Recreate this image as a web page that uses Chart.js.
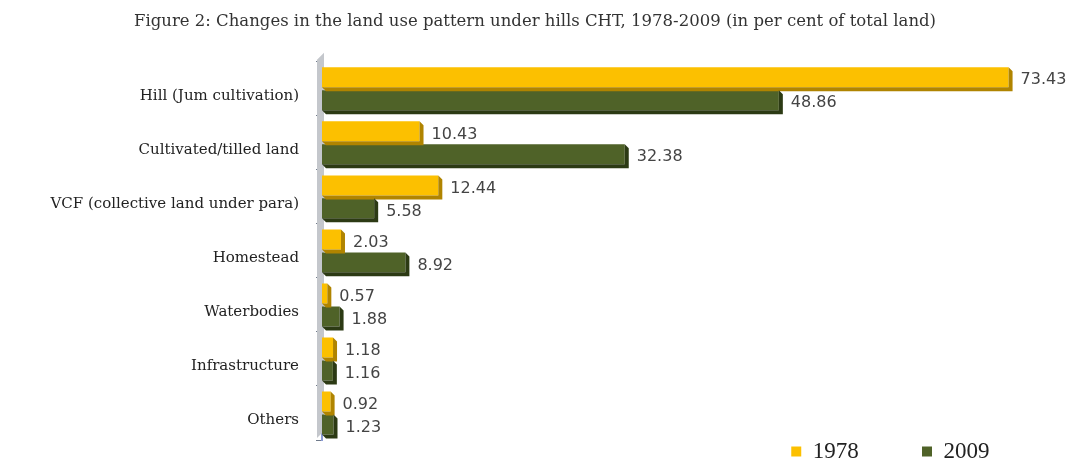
<!DOCTYPE html>
<html>
<head>
<meta charset="utf-8">
<script src="https://cdn.jsdelivr.net/npm/chart.js@4.4.1/dist/chart.umd.min.js"></script>
<style>
  html, body { margin: 0; padding: 0; background: #fff; }
</style>
</head>
<body>
<canvas id="landChart" width="1075" height="466"></canvas>
<script>
// land use categories (top to bottom)
var categories = [
    'Hill (Jum cultivation)',
    'Cultivated/tilled land',
    'VCF (collective land under para)',
    'Homestead',
    'Waterbodies',
    'Infrastructure',
    'Others'
];
var values1978 = [73.43, 10.43, 12.44, 2.03, 0.57, 1.18, 0.92];
var values2009 = [48.86, 32.38, 5.58, 8.92, 1.88, 1.16, 1.23];
var seriesNames = ['1978', '2009'];

// grey side wall behind the category axis
var sideWall = {
    id: 'sideWall',
    beforeDatasetsDraw: function (chart) {
        var a = chart.chartArea;
        var ctx = chart.ctx;
        ctx.save();
        ctx.fillStyle = '#c4c7cc';
        ctx.beginPath();
        ctx.moveTo(a.left - 5, a.top - 2);
        ctx.lineTo(a.left + 2, a.top - 9);
        ctx.lineTo(a.left + 2, a.bottom - 9);
        ctx.lineTo(a.left - 5, a.bottom - 2);
        ctx.closePath();
        ctx.fill();
        ctx.restore();
    }
};

// fake 3D depth on the bars + value labels at the end
var barExtras = {
    id: 'barExtras',
    afterDatasetsDraw: function (chart) {
        var ctx = chart.ctx;
        var d = 4;
        var sides = ['#b08400', '#2c3a14'];
        chart.data.datasets.forEach(function (ds, i) {
            var meta = chart.getDatasetMeta(i);
            meta.data.forEach(function (bar, j) {
                var top = bar.y - bar.height / 2;
                var bottom = bar.y + bar.height / 2;
                ctx.save();
                ctx.fillStyle = sides[i];
                ctx.beginPath();
                ctx.moveTo(bar.x, top);
                ctx.lineTo(bar.x + d, top + d);
                ctx.lineTo(bar.x + d, bottom + d);
                ctx.lineTo(bar.base + d, bottom + d);
                ctx.lineTo(bar.base, bottom);
                ctx.lineTo(bar.x, bottom);
                ctx.closePath();
                ctx.fill();
                ctx.fillStyle = '#444';
                ctx.font = '16px "DejaVu Sans"';
                ctx.textBaseline = 'middle';
                ctx.textAlign = 'left';
                ctx.fillText(ds.data[j].toFixed(2), bar.x + d + 8, bar.y + 3);
                ctx.restore();
            });
        });
    }
};

// let the legend overlap the bottom of the plot like the original
var legendSqueeze = {
    id: 'legendSqueeze',
    beforeLayout: function (chart) {
        var lg = chart.legend;
        if (lg && !lg._squeezed) {
            var fit = lg.fit;
            lg.fit = function () {
                fit.call(this);
                this.height = 21;
            };
            lg._squeezed = true;
        }
    }
};

var ctx = document.getElementById('landChart').getContext('2d');
var landChart = new Chart(ctx, {
    type: 'bar',
    data: {
        labels: categories,
        datasets: [
            { label: seriesNames[0], data: values1978, backgroundColor: '#fcc000' },
            { label: seriesNames[1], data: values2009, backgroundColor: '#4f6228' }
        ]
    },
    options: {
        indexAxis: 'y',
        responsive: false,
        animation: false,
        categoryPercentage: 0.85,
        barPercentage: 0.87,
        layout: { padding: { left: 0, right: 5, top: 0, bottom: 0 } },
        scales: {
            x: {
                display: false,
                min: 0,
                max: 80
            },
            y: {
                afterFit: function (scale) { scale.width = 322; },
                grid: {
                    drawOnChartArea: false,
                    tickLength: 6,
                    color: '#6f7a8a'
                },
                border: { color: '#8c9bd6', width: 2 },
                ticks: {
                    color: '#222',
                    padding: 17,
                    labelOffset: 7,
                    font: { family: '"DejaVu Serif"', size: 15 }
                }
            }
        },
        plugins: {
            title: {
                display: true,
                text: 'Figure 2: Changes in the land use pattern under hills CHT, 1978-2009 (in per cent of total land)',
                color: '#333',
                font: { family: '"DejaVu Serif"', size: 16.5, weight: 'normal' },
                padding: { top: 12, bottom: 30 }
            },
            legend: {
                position: 'bottom',
                align: 'end',
                labels: {
                    color: '#222',
                    boxWidth: 10,
                    boxHeight: 10,
                    padding: 0,
                    font: { family: '"Liberation Serif"', size: 23 },
                    generateLabels: function (chart) {
                        var items = Chart.defaults.plugins.legend.labels.generateLabels(chart);
                        items[0].text = items[0].text + '           ';
                        items[1].text = items[1].text + '              ';
                        items.forEach(function (it) { it.lineWidth = 0; });
                        return items;
                    }
                }
            },
            tooltip: { enabled: false }
        }
    },
    plugins: [sideWall, barExtras, legendSqueeze]
});
</script>
</body>
</html>
